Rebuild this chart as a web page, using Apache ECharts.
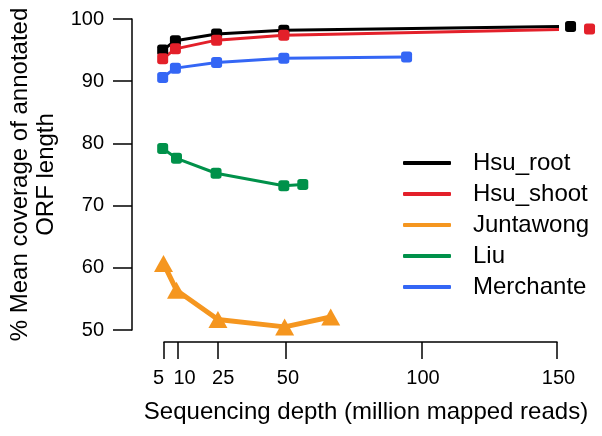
<!DOCTYPE html>
<html>
<head>
<meta charset="utf-8">
<script src="https://cdn.jsdelivr.net/npm/echarts@6/dist/echarts.min.js"></script>
<style>
  html, body { margin: 0; padding: 0; background: #fff; }
  #chart { width: 602px; height: 436px; }
</style>
</head>
<body>
<div id="chart"></div>
<script>
// Sequencing depth (million mapped reads) and mean ORF coverage (%) per study
const depthTicks = [5, 10, 25, 50, 100, 150];
// the first tick label sits on its own axis so the crowded 5/10 pair both show
const firstDepthLabel = [5];
const otherDepthLabels = [10, 25, 50, 100, 150];

const hsuRootDepth = [4.5, 9.2, 24.4, 49.2, 155];
const hsuRootCov   = [95.0, 96.5, 97.6, 98.2, 98.8];

const hsuShootDepth = [4.5, 9.2, 24.4, 49.2, 162];
const hsuShootCov   = [93.6, 95.2, 96.6, 97.4, 98.4];

const juntawongDepth = [4.8, 9.6, 24.9, 49.5, 66.5];
const juntawongCov   = [60.7, 56.4, 51.7, 50.5, 52.1];

const liuDepth = [4.5, 9.6, 24.2, 49.2, 56.2];
const liuCov   = [79.2, 77.6, 75.2, 73.2, 73.4];

const merchanteDepth = [4.5, 9.2, 24.4, 49.2, 94.5];
const merchanteCov   = [90.6, 92.1, 93.0, 93.7, 93.9];

const seriesNames = ['Hsu_root', 'Hsu_shoot', 'Juntawong', 'Liu', 'Merchante'];
const seriesColors = ['#000000', '#e3202a', '#f5961f', '#00914a', '#3466f5'];

const pairs = (xs, ys) => xs.map((x, i) => [x, ys[i]]);

const FONT = '"Liberation Sans", Arial, Helvetica, sans-serif';
const labelBase = { fontFamily: FONT, fontSize: 20, color: '#000' };

// small nudges so neighbouring depth labels read apart
const depthLabelRich = {
  d5:   Object.assign({ padding: [0, 11, 0, 0] }, labelBase),
  d10:  Object.assign({ padding: [0, 0, 0, 14] }, labelBase),
  d25:  Object.assign({ padding: [0, 0, 0, 10] }, labelBase),
  d50:  Object.assign({ padding: [0, 0, 0, 4] }, labelBase),
  d100: Object.assign({ padding: [0, 0, 0, 3] }, labelBase),
  d150: Object.assign({ padding: [0, 0, 0, 3] }, labelBase)
};
const depthFormatter = v => `{d${v}|${v}}`;

function squareSeries(name, color, xs, ys) {
  return {
    name, type: 'line', data: pairs(xs, ys), clip: false,
    color,
    symbol: 'roundRect', symbolSize: 11,
    lineStyle: { color, width: 3 },
    itemStyle: { color },
    emphasis: { disabled: true }
  };
}

const X_MIN = 4.99, X_MAX = 150;

const chart = echarts.init(document.getElementById('chart'), null, { renderer: 'canvas' });

chart.setOption({
  animation: false,
  backgroundColor: '#ffffff',
  grid: { left: 164, right: 45, top: 19, bottom: 106, containLabel: false, outerBoundsMode: 'none' },
  legend: {
    orient: 'vertical',
    left: 403, top: 150,
    padding: 0,
    icon: 'roundRect',
    itemWidth: 48, itemHeight: 4,
    itemGap: 5,
    data: seriesNames,
    textStyle: { fontFamily: FONT, fontSize: 24, color: '#000', padding: [0, 0, 0, 17], lineHeight: 26 },
    selectedMode: false
  },
  xAxis: [
    {
      type: 'value', min: X_MIN, max: X_MAX, offset: 12, position: 'bottom',
      name: 'Sequencing depth (million mapped reads)',
      nameLocation: 'middle', nameGap: 58,
      nameTextStyle: { fontFamily: FONT, fontSize: 24, color: '#000', padding: [0, 0, 0, 11] },
      axisLine: { show: true, lineStyle: { color: '#000', width: 1.5 } },
      axisTick: { show: true, length: 17, customValues: depthTicks, lineStyle: { color: '#000', width: 1.5 } },
      axisLabel: Object.assign({ customValues: firstDepthLabel, margin: 26, formatter: depthFormatter,
                                 rich: depthLabelRich, showMinLabel: true }, labelBase),
      splitLine: { show: false }
    },
    {
      type: 'value', min: X_MIN, max: X_MAX, offset: 12, position: 'bottom',
      axisLine: { show: false },
      axisTick: { show: false },
      axisLabel: Object.assign({ customValues: otherDepthLabels, margin: 26, formatter: depthFormatter,
                                 rich: depthLabelRich, showMinLabel: true, showMaxLabel: true }, labelBase),
      splitLine: { show: false }
    }
  ],
  yAxis: {
    type: 'value', min: 50, max: 100, interval: 10, offset: 32,
    name: '% Mean coverage of annotated\nORF length',
    nameLocation: 'middle', nameGap: 69,
    nameTextStyle: { fontFamily: FONT, fontSize: 24, color: '#000', lineHeight: 26 },
    axisLine: { show: true, lineStyle: { color: '#000', width: 1.5 } },
    axisTick: { show: true, length: 19, lineStyle: { color: '#000', width: 1.5 } },
    axisLabel: Object.assign({ margin: 28 }, labelBase),
    splitLine: { show: false }
  },
  series: [
    squareSeries('Hsu_root', seriesColors[0], hsuRootDepth, hsuRootCov),
    squareSeries('Hsu_shoot', seriesColors[1], hsuShootDepth, hsuShootCov),
    {
      name: 'Juntawong', type: 'line', data: pairs(juntawongDepth, juntawongCov), clip: false,
      color: seriesColors[2],
      symbol: 'triangle', symbolSize: [19, 17],
      lineStyle: { color: seriesColors[2], width: 5 },
      itemStyle: { color: seriesColors[2] },
      emphasis: { disabled: true }
    },
    squareSeries('Liu', seriesColors[3], liuDepth, liuCov),
    squareSeries('Merchante', seriesColors[4], merchanteDepth, merchanteCov)
  ]
});
</script>
</body>
</html>
